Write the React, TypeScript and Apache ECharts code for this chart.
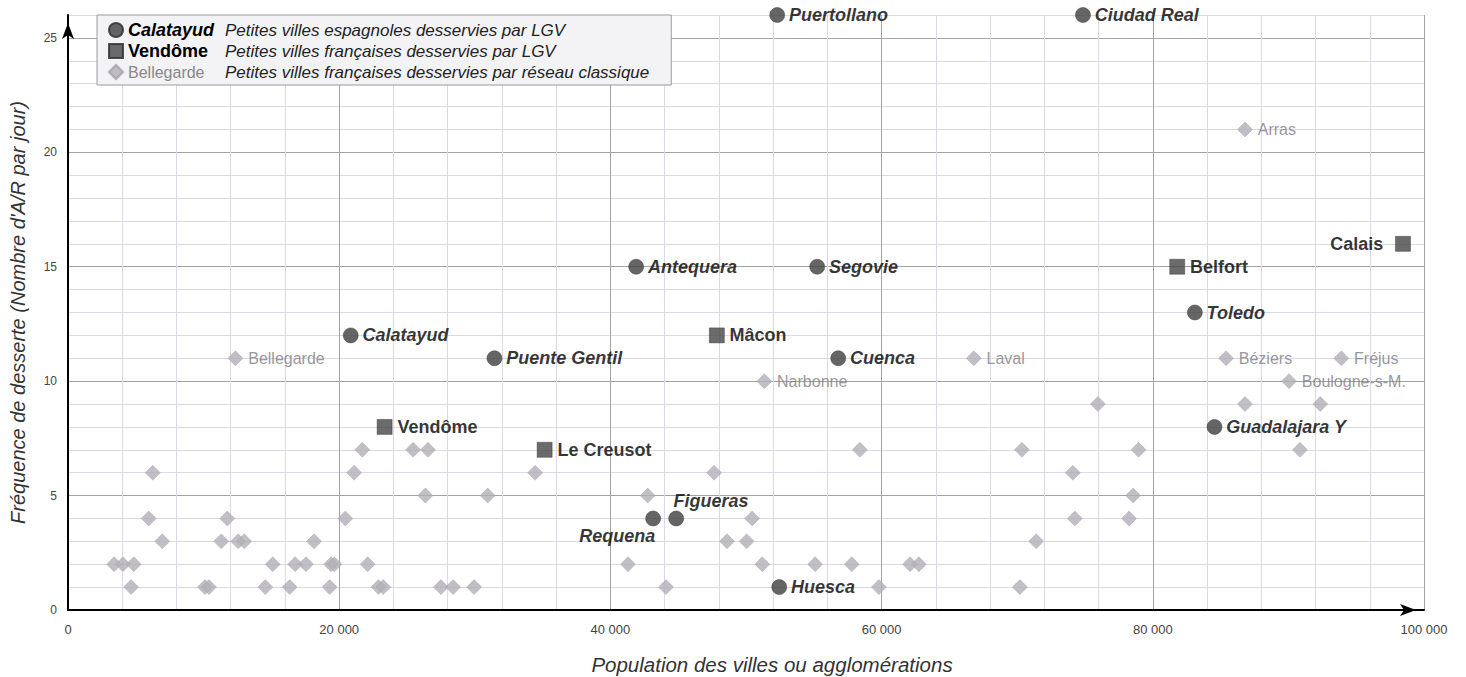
import React, { useEffect, useRef } from 'react';
import * as echarts from 'echarts';

const FONT = '"Liberation Sans", Arial, Helvetica, sans-serif';

// ---- Series descriptions (legend) ----
const spainDesc = 'Petites villes espagnoles desservies par LGV';
const frLgvDesc = 'Petites villes françaises desservies par LGV';
const frClassicDesc = 'Petites villes françaises desservies par réseau classique';

// ---- Spanish small towns served by high-speed rail ----
const spainNames = ['Puertollano', 'Ciudad Real', 'Antequera', 'Segovie', 'Calatayud', 'Puente Gentil', 'Cuenca', 'Toledo', 'Guadalajara Y', 'Requena', 'Figueras', 'Huesca'];
const spainPop = [52300, 74850, 41900, 55250, 20850, 31450, 56800, 83100, 84550, 43150, 44850, 52450];
const spainFreq = [26, 26, 15, 15, 12, 11, 11, 13, 8, 4, 4, 1];

// ---- French small towns served by high-speed rail ----
const frLgvNames = ['Vendôme', 'Le Creusot', 'Mâcon', 'Belfort', 'Calais'];
const frLgvPop = [23350, 35150, 47850, 81800, 98450];
const frLgvFreq = [8, 7, 12, 15, 16];

// ---- French small towns served by classic network ----
const frClassicNames = [
  'Bellegarde', 'Narbonne', 'Laval', 'Arras', 'Béziers', 'Fréjus', 'Boulogne-s-M.',
  '', '', '', '', '', '', '', '', '', '', '', '', '', '',
  '', '', '', '', '', '', '', '', '', '', '', '', '', '', '',
  '', '', '', '', '', '', '', '',
  '', '', '', '', '', '',
  '', '', '', '',
  '', '', '', '', '',
  '', '', '', '', '', '', '',
  '', '', ''
];
const frClassicPop = [
  12350, 51350, 66800, 86800, 85400, 93900, 90050,
  4650, 10100, 10400, 14550, 16350, 19300, 22900, 23250, 27500, 28400, 29950, 44100, 59800, 70200,
  3400, 4050, 4850, 15100, 16750, 17550, 19400, 19650, 22100, 41300, 51200, 55100, 57800, 62100, 62750,
  6950, 11300, 12550, 13000, 18150, 48600, 50050, 71400,
  5950, 11750, 20450, 50450, 74250, 78250,
  26350, 30950, 42750, 78550,
  6250, 21100, 34450, 47650, 74100,
  21700, 25450, 26550, 58400, 70350, 78950, 90850,
  75950, 86800, 92350
];
const frClassicFreq = [
  11, 10, 11, 21, 11, 11, 10,
  1, 1, 1, 1, 1, 1, 1, 1, 1, 1, 1, 1, 1, 1,
  2, 2, 2, 2, 2, 2, 2, 2, 2, 2, 2, 2, 2, 2, 2,
  3, 3, 3, 3, 3, 3, 3, 3,
  4, 4, 4, 4, 4, 4,
  5, 5, 5, 5,
  6, 6, 6, 6, 6,
  7, 7, 7, 7, 7, 7, 7,
  9, 9, 9
];

// ---- Axes ----
const xMin = 0;
const xMax = 100000;
const xStep = 4000;
const xLabelStep = 20000;
const yMin = 0;
const yMax = 26;
const yStep = 1;
const yLabelStep = 5;

const xTitle = 'Population des villes ou agglomérations';
const yTitle = "Fréquence de desserte (Nombre d'A/R par jour)";

const fmtThousands = (v: number) => String(v).replace(/\B(?=(\d{3})+(?!\d))/g, ' ');

function labelFor(name: string): any {
  if (name === 'Calais') return { position: 'left', distance: 12 };
  if (name === 'Requena') return { position: [10, 25], align: 'right', verticalAlign: 'middle' };
  if (name === 'Figueras') return { position: [5, -10], align: 'left', verticalAlign: 'middle' };
  return undefined;
}

function buildData(names: string[], xs: number[], ys: number[]) {
  return names.map((n, i) => {
    const item: any = { name: n, value: [xs[i], ys[i]] };
    const lab = labelFor(n);
    if (lab) item.label = lab;
    return item;
  });
}

export default function App() {
  const ref = useRef<HTMLDivElement>(null);

  useEffect(() => {
    if (!ref.current) return;
    const chart = echarts.init(ref.current, undefined, { renderer: 'svg' });
    const minor = '#ddd7e8';
    const major = '#a3a3a3';

    const option: any = {
      animation: false,
      textStyle: { fontFamily: FONT },
      grid: { left: 68, right: 42, top: 15, bottom: 67, containLabel: false, outerBoundsMode: 'none' },
      legend: {
        show: true,
        orient: 'vertical',
        left: 97,
        top: 15,
        selectedMode: false,
        backgroundColor: '#f3f3f5',
        borderColor: '#9a9a9a',
        borderWidth: 1,
        padding: [5, 22, 3, 11],
        itemGap: 1,
        itemWidth: 14,
        itemHeight: 14,
        data: [
          { name: spainDesc, icon: 'circle' },
          { name: frLgvDesc, icon: 'rect' },
          { name: frClassicDesc, icon: 'diamond' },
        ],
        formatter: (name: string) => {
          if (name === spainDesc) return `{a|Calatayud}{d|${name}}`;
          if (name === frLgvDesc) return `{b|Vendôme}{d|${name}}`;
          return `{c|Bellegarde}{d|${name}}`;
        },
        textStyle: {
          fontFamily: FONT,
          lineHeight: 20,
          rich: {
            a: { fontFamily: FONT, fontWeight: 'bold', fontStyle: 'italic', fontSize: 18, color: '#000', width: 97, height: 20 },
            b: { fontFamily: FONT, fontWeight: 'bold', fontSize: 18, color: '#000', width: 97, height: 20 },
            c: { fontFamily: FONT, fontSize: 16, color: '#888', width: 97, height: 20 },
            d: { fontFamily: FONT, fontStyle: 'italic', fontSize: 17, color: '#222', height: 20 },
          },
        },
      },
      xAxis: {
        type: 'value',
        min: xMin,
        max: xMax,
        interval: xStep,
        name: xTitle,
        nameLocation: 'middle',
        nameGap: 44,
        nameTextStyle: { fontFamily: FONT, fontStyle: 'italic', fontSize: 20.5, color: '#333', padding: [0, 0, 0, 52] },
        axisLine: {
          show: true,
          onZero: false,
          lineStyle: { color: '#000', width: 2 },
          symbol: ['none', 'arrow'],
          symbolSize: [9, 16],
          symbolOffset: [0, -8],
        },
        axisTick: { show: false },
        axisLabel: {
          fontFamily: FONT,
          fontSize: 13,
          color: '#444',
          margin: 13,
          formatter: (v: number) => (v % xLabelStep === 0 ? fmtThousands(v) : ''),
        },
        splitLine: { show: true, lineStyle: { color: [major, minor, minor, minor, minor], width: 1 } },
      },
      yAxis: {
        type: 'value',
        min: yMin,
        max: yMax,
        interval: yStep,
        name: yTitle,
        nameLocation: 'middle',
        nameGap: 40,
        nameTextStyle: { fontFamily: FONT, fontStyle: 'italic', fontSize: 20, color: '#333' },
        axisLine: {
          show: true,
          onZero: false,
          lineStyle: { color: '#000', width: 2 },
          symbol: ['none', 'arrow'],
          symbolSize: [9, 16],
          symbolOffset: [0, -8],
        },
        axisTick: { show: false },
        axisLabel: {
          fontFamily: FONT,
          fontSize: 12,
          color: '#444',
          margin: 11,
          formatter: (v: number) => (v % yLabelStep === 0 ? String(v) : ''),
        },
        splitLine: { show: true, lineStyle: { color: [major, minor, minor, minor, minor], width: 1 } },
      },
      series: [
        {
          name: frClassicDesc,
          type: 'scatter',
          symbol: 'diamond',
          symbolSize: 15,
          z: 2,
          itemStyle: { color: '#b2afb6', borderColor: '#a39fa8', borderWidth: 0.5 },
          label: {
            show: true,
            position: 'right',
            distance: 5,
            formatter: (p: any) => p.name,
            fontFamily: FONT,
            fontSize: 16,
            color: '#7d7b82',
          },
          data: buildData(frClassicNames, frClassicPop, frClassicFreq),
        },
        {
          name: frLgvDesc,
          type: 'scatter',
          symbol: 'rect',
          symbolSize: 15,
          z: 3,
          itemStyle: { color: '#464646', borderColor: '#2a2a2a', borderWidth: 0.5 },
          label: {
            show: true,
            position: 'right',
            distance: 5,
            formatter: (p: any) => p.name,
            fontFamily: FONT,
            fontSize: 18,
            fontWeight: 'bold',
            color: '#000',
          },
          data: buildData(frLgvNames, frLgvPop, frLgvFreq),
        },
        {
          name: spainDesc,
          type: 'scatter',
          symbol: 'circle',
          symbolSize: 15,
          z: 4,
          itemStyle: { color: '#3f3f3f', borderColor: '#2a2a2a', borderWidth: 0.5 },
          label: {
            show: true,
            position: 'right',
            distance: 4,
            formatter: (p: any) => p.name,
            fontFamily: FONT,
            fontSize: 18,
            fontWeight: 'bold',
            fontStyle: 'italic',
            color: '#000',
          },
          data: buildData(spainNames, spainPop, spainFreq),
        },
      ],
    };

    chart.setOption(option);
    return () => chart.dispose();
  }, []);

  return (
    <div
      ref={ref}
      style={{ position: 'fixed', left: 0, top: 0, width: 1466, height: 677, background: '#fff' }}
    />
  );
}
